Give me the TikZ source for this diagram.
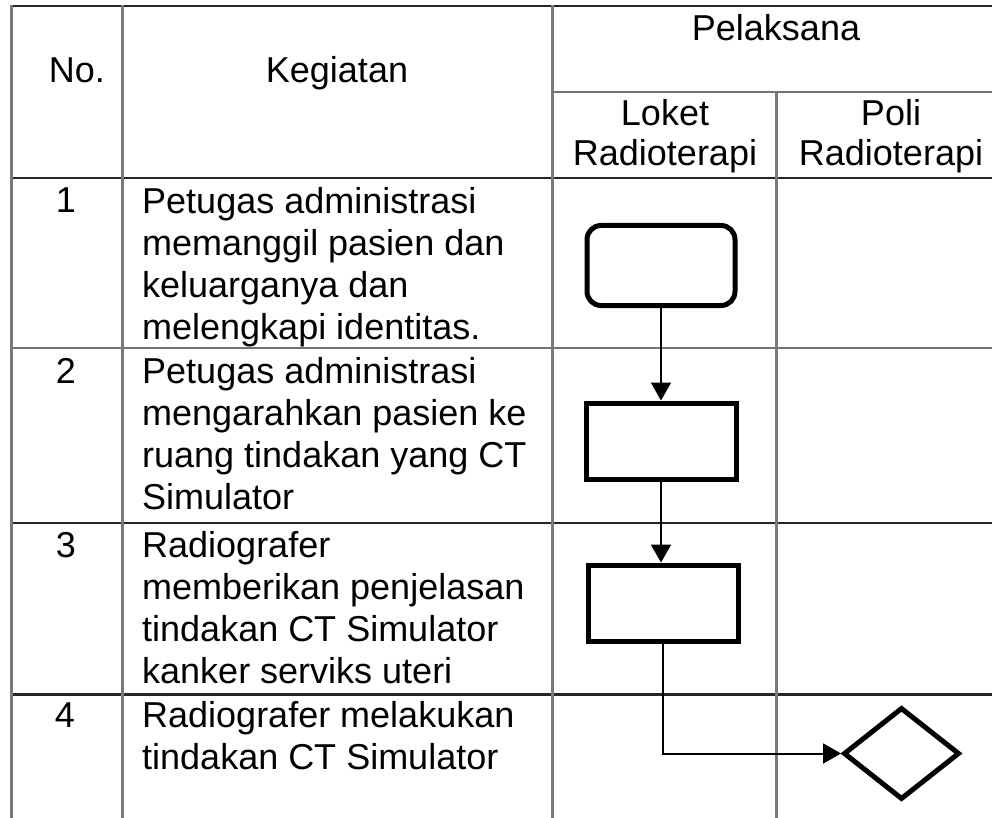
\documentclass[tikz,border=0pt]{standalone}
\usepackage{fontspec}
\setmainfont{Liberation Sans}
\usetikzlibrary{arrows.meta,shapes.geometric}
\begin{document}
\begin{tikzpicture}[x=1pt,y=-1pt,
  txt/.style={inner sep=0pt, font=\fontsize{36}{42}\selectfont, text=black, align=left, anchor=base west},
  ctr/.style={inner sep=0pt, font=\fontsize{36}{40}\selectfont, text=black, align=center, anchor=base},
  vline/.style={draw=black!52, line width=3pt},
  hgray/.style={draw=black!55, line width=2.5pt},
  hdark/.style={draw=black!85, line width=2.5pt},
  termbox/.style={draw=black, line width=5pt, rounded corners=14pt, minimum width=148pt, minimum height=80pt, inner sep=0pt},
  procbox/.style={draw=black, line width=5pt, minimum width=150pt, minimum height=76pt, inner sep=0pt},
  decbox/.style={draw=black, diamond, line width=5pt, minimum width=116pt, minimum height=92pt, inner sep=0pt},
  arr/.style={draw=black, line width=2pt, -{Triangle[length=18pt,width=20pt]}}
]
\useasboundingbox (0,0) rectangle (992,818);
\fill[white] (0,0) rectangle (992,818);

% table lines
\draw[hdark] (11,6) -- (992,6);
\draw[hgray] (552,92) -- (992,92);
\draw[hdark] (11,178) -- (992,178);
\draw[hgray] (11,348) -- (992,348);
\draw[hdark] (11,523) -- (992,523);
\draw[hdark] (11,694.5) -- (992,694.5);
\draw[vline] (11,5) -- (11,818);
\draw[vline] (122,5) -- (122,818);
\draw[vline] (552,5) -- (552,818);
\draw[vline] (776,92) -- (776,818);

% header
\node[ctr] (hno) at (77,83) {No.};
\node[ctr] (hkeg) at (337,83) {Kegiatan};
\node[ctr] (hpel) at (776,41) {Pelaksana};
\node[ctr] (hlok) at (665,166) {Loket\\Radioterapi};
\node[ctr] (hpoli) at (891,166) {Poli\\Radioterapi};

% numbers
\node[ctr] (n1) at (66,213) {1};
\node[ctr] (n2) at (66,383) {2};
\node[ctr] (n3) at (66,557) {3};
\node[ctr] (n4) at (65,727) {4};

% activities (base anchor = last line's baseline)
\node[txt] (k1) at (142,339) {Petugas administrasi\\memanggil pasien dan\\keluarganya dan\\melengkapi identitas.};
\node[txt] (k2) at (142,509) {Petugas administrasi\\mengarahkan pasien ke\\ruang tindakan yang CT\\Simulator};
\node[txt] (k3) at (142,683) {Radiografer\\memberikan penjelasan\\tindakan CT Simulator\\kanker serviks uteri};
\node[txt] (k4) at (142,769) {Radiografer melakukan\\tindakan CT Simulator};

% flow
\node[termbox] (r1) at (661,265.5) {};
\node[procbox] (r2) at (661,441) {};
\node[procbox] (r3) at (663,603) {};
\node[decbox] (d4) at (901.5,753.5) {};

\draw[arr] (r1.south) -- (r2.north);
\draw[arr] (r2.south -| r1.south) -- (r3.north -| r1.south);
\draw[arr] (r3.south) |- (d4.west);
\end{tikzpicture}
\end{document}
